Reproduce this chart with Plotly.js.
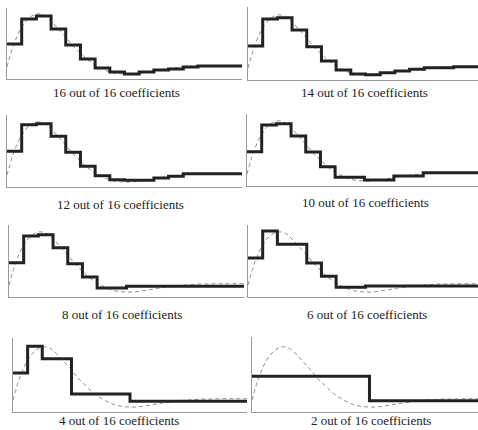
<!DOCTYPE html>
<html>
<head>
<meta charset="utf-8">
<script src="https://cdn.plot.ly/plotly-3.0.1.min.js"></script>
<style>
  html, body { margin: 0; padding: 0; background: #ffffff; }
  #chart { width: 478px; height: 430px; }
</style>
</head>
<body>
<div id="chart"></div>
<script>
// ---- data ----
const panelLabels = [
  '16 out of 16 coefficients', '14 out of 16 coefficients',
  '12 out of 16 coefficients', '10 out of 16 coefficients',
  '8 out of 16 coefficients',  '6 out of 16 coefficients',
  '4 out of 16 coefficients',  '2 out of 16 coefficients'
];

const stepEdges = [0, 1, 2, 3, 4, 5, 6, 7, 8, 9, 10, 11, 12, 13, 14, 15, 16];

const steps16 = [35, 60, 63, 50, 34, 20, 11, 7, 5, 7, 9, 10, 12, 13, 13, 13];
const steps14 = [34, 61, 62.3, 50, 33.3, 19, 10, 6, 5.3, 7.3, 9, 10.7, 12.3, 12.3, 13.3, 13.3];
const steps12 = [35.7, 62.3, 63.3, 50.7, 34.7, 20.7, 11.3, 7.3, 6.7, 6.7, 9, 10.7, 13.3, 13.3, 13.3, 13.3];
const steps10 = [34.3, 61, 62.3, 50, 34, 19.3, 8.7, 8.7, 6, 6, 10, 10, 13.3, 13.3, 13.3, 13.3];
const steps8  = [34.3, 61, 62.3, 49.3, 33.3, 20, 9, 9, 10.7, 10.7, 10.7, 10.7, 10.7, 10.7, 10.7, 10.7];
const steps6  = [39, 66, 52.7, 52.7, 34, 20.7, 9.7, 9.7, 11, 11, 11, 11, 11, 11, 11, 11];
const steps4  = [39, 65.7, 53.3, 53.3, 18, 18, 18, 18, 10.7, 10.7, 10.7, 10.7, 10.7, 10.7, 10.7, 10.7];
const steps2  = [35.7, 35.7, 35.7, 35.7, 35.7, 35.7, 35.7, 35.7, 11.3, 11.3, 11.3, 11.3, 11.3, 11.3, 11.3, 11.3];

const curveX = [0, 0.5, 1, 1.5, 2, 2.5, 3, 3.5, 4, 4.5, 5, 5.5, 6, 6.5, 7, 7.5, 8,
                8.5, 9, 9.5, 10, 10.5, 11, 11.5, 12, 12.5, 13, 13.5, 14, 14.5, 15, 15.5, 16];
const curveY = [12, 36, 52, 61, 65, 64, 58, 50, 42, 33, 26, 19, 14, 10, 7, 5.5, 5,
                5, 6, 7, 8.5, 9.5, 10.5, 11.5, 12, 12.5, 13, 13, 13.2, 13.3, 13.3, 13.3, 13.3];

const allSteps = [steps16, steps14, steps12, steps10, steps8, steps6, steps4, steps2];

// ---- layout geometry (pixels) ----
const W = 478, H = 430;
const panels = [
  {x0: 7,   x1: 242, y0: 8,   y1: 79,  xmax: 16,    lx: 116, ly: 93},
  {x0: 248, x1: 478, y0: 7,   y1: 80,  xmax: 15.66, lx: 364, ly: 92},
  {x0: 7,   x1: 242, y0: 115, y1: 187, xmax: 16,    lx: 120, ly: 204},
  {x0: 247, x1: 478, y0: 114, y1: 186, xmax: 15.73, lx: 365, ly: 202},
  {x0: 9,   x1: 244, y0: 225, y1: 297, xmax: 16,    lx: 122, ly: 314},
  {x0: 248, x1: 478, y0: 225, y1: 297, xmax: 15.66, lx: 367, ly: 314},
  {x0: 13,  x1: 247, y0: 338, y1: 412, xmax: 16,    lx: 119, ly: null},
  {x0: 252, x1: 478, y0: 337, y1: 412, xmax: 15.39, lx: 371, ly: null}
];

const traces = [];
const layout = {
  width: W, height: H,
  margin: {l: 0, r: 0, t: 0, b: 0},
  paper_bgcolor: '#ffffff',
  plot_bgcolor: '#ffffff',
  showlegend: false,
  annotations: []
};

panels.forEach((p, i) => {
  const n = i === 0 ? '' : String(i + 1);
  const xa = 'x' + n, ya = 'y' + n;
  const steps = allSteps[i];
  const stepY = steps.concat([steps[steps.length - 1]]);

  traces.push({
    x: curveX, y: curveY, xaxis: xa, yaxis: ya,
    type: 'scatter', mode: 'lines',
    line: {color: '#8f8f8f', width: 1, dash: '4px,3px', shape: 'spline', smoothing: 1},
    hoverinfo: 'skip'
  });
  traces.push({
    x: stepEdges, y: stepY, xaxis: xa, yaxis: ya,
    type: 'scatter', mode: 'lines',
    line: {color: '#222222', width: 3, shape: 'hv'},
    hoverinfo: 'skip'
  });

  const axBase = {
    showgrid: false, zeroline: false, showticklabels: false, ticks: '',
    showline: true, linecolor: '#9a9a9a', linewidth: 1, fixedrange: true
  };
  layout['xaxis' + n] = Object.assign({}, axBase, {
    domain: [p.x0 / W, p.x1 / W], range: [0, p.xmax], anchor: ya
  });
  layout['yaxis' + n] = Object.assign({}, axBase, {
    domain: [1 - p.y1 / H, 1 - p.y0 / H], range: [0, p.y1 - p.y0], anchor: xa
  });

  const ann = {
    text: panelLabels[i], xref: 'paper', yref: 'paper',
    x: p.lx / W, xanchor: 'center',
    showarrow: false,
    font: {family: 'Liberation Serif, Times New Roman, serif', size: 13, color: '#222222'}
  };
  if (p.ly === null) {
    ann.y = 0; ann.yanchor = 'bottom';
  } else {
    ann.y = 1 - p.ly / H; ann.yanchor = 'middle';
  }
  layout.annotations.push(ann);
});

Plotly.newPlot('chart', traces, layout, {staticPlot: true, displayModeBar: false});
</script>
</body>
</html>
